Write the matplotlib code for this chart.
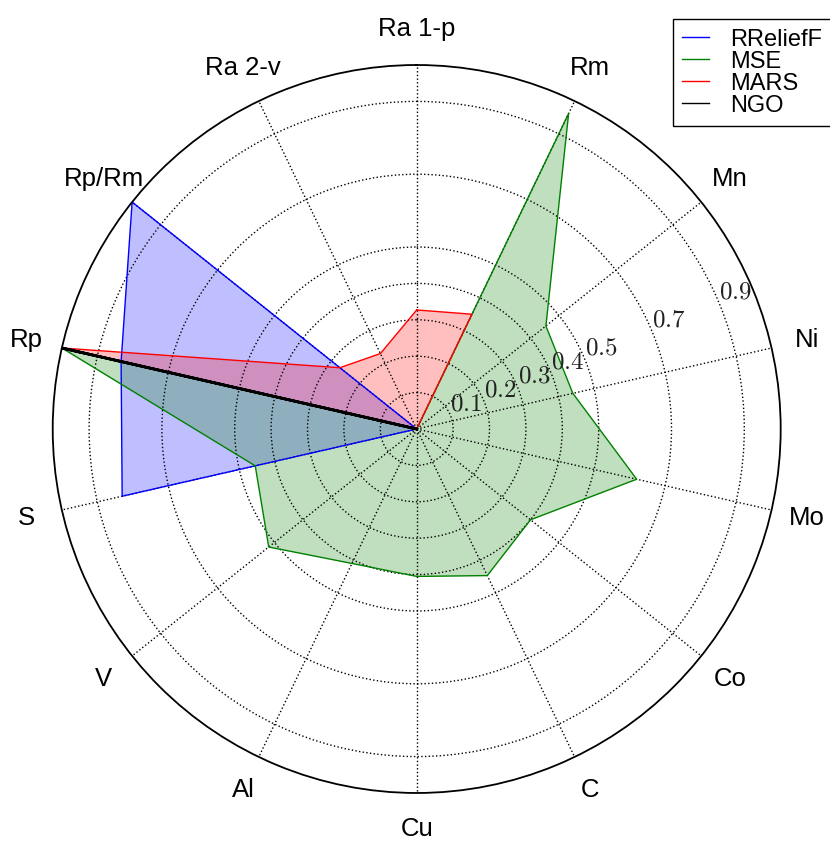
import numpy as np
import matplotlib
matplotlib.use('Agg')
import matplotlib.pyplot as plt
from matplotlib.lines import Line2D

plt.rcParams['font.family'] = ['Liberation Sans', 'DejaVu Sans']
plt.rcParams['mathtext.fontset'] = 'cm'

# 指标名称 (顺时针, 从正上方开始)
labels = ['Ra 1-p', 'Rm', 'Mn', 'Ni', 'Mo', 'Co', 'C', 'Cu', 'Al', 'V', 'S',
          'Rp', 'Rp/Rm', 'Ra 2-v']

# 各方法的权重
rrelieff = [0, 0, 0, 0, 0, 0, 0, 0, 0, 0, 0.83, 0.833, 1.0, 0]
mse = [0, 0.962, 0.454, 0.44, 0.62, 0.40, 0.447, 0.405, 0.41, 0.52, 0.455,
       1.0, 0, 0]
mars = [0.327, 0.35, 0, 0, 0, 0, 0, 0, 0, 0, 0, 1.0, 0.27, 0.23]
ngo = [0, 0, 0, 0, 0, 0, 0, 0, 0, 0, 0, 1.0, 0, 0]

rings = [0.1, 0.2, 0.3, 0.4, 0.5, 0.7, 0.9]

series = [('RReliefF', rrelieff, 'b'),
          ('MSE', mse, 'g'),
          ('MARS', mars, 'r'),
          ('NGO', ngo, 'k')]

n = len(labels)
theta = np.linspace(0, 2 * np.pi, n, endpoint=False)
theta_c = np.append(theta, theta[0])

fig = plt.figure(figsize=(8.3, 8.41), dpi=100)
ax = fig.add_axes([0.0635, 0.0571, 0.8771, 0.8656], projection='polar')
ax.set_theta_zero_location('N')
ax.set_theta_direction(-1)

handles = []
for name, vals, col in series:
    v = np.append(vals, vals[0])
    lw = 2.0 if col == 'k' else 1.0
    ax.plot(theta_c, v, color=col, lw=lw)
    ax.fill(theta_c, v, color=col, alpha=0.25, lw=0)
    handles.append(Line2D([], [], color=col, lw=1.0, label=name))

ax.set_ylim(0, 1)
ax.set_xticks(theta)
ax.set_xticklabels([])
ax.set_yticks(rings)
ax.set_yticklabels([])
ax.grid(True, linestyle=':', color='k', linewidth=1.0)
ax.spines['polar'].set_linewidth(1.3)

# 类别标签
for t, lab in zip(theta, labels):
    ax.text(t, 1.1, lab, ha='center', va='center', fontsize=18.5,
            clip_on=False)

# 径向刻度标签
for r in rings:
    ax.text(np.deg2rad(90 - 22.5), r, '$%.1f$' % r, ha='left', va='bottom',
            fontsize=18, color='#222222', clip_on=False)

leg = fig.legend(handles=handles, loc='upper left',
                 bbox_to_anchor=(672.7 / 830, 1 - 19.3 / 841),
                 borderaxespad=0, fontsize=17, handlelength=1.15,
                 handletextpad=0.9, labelspacing=0.0, borderpad=0.4,
                 fancybox=False, framealpha=1, edgecolor='k')
leg.get_frame().set_linewidth(1.0)

fig.savefig('out.png', dpi=100)
